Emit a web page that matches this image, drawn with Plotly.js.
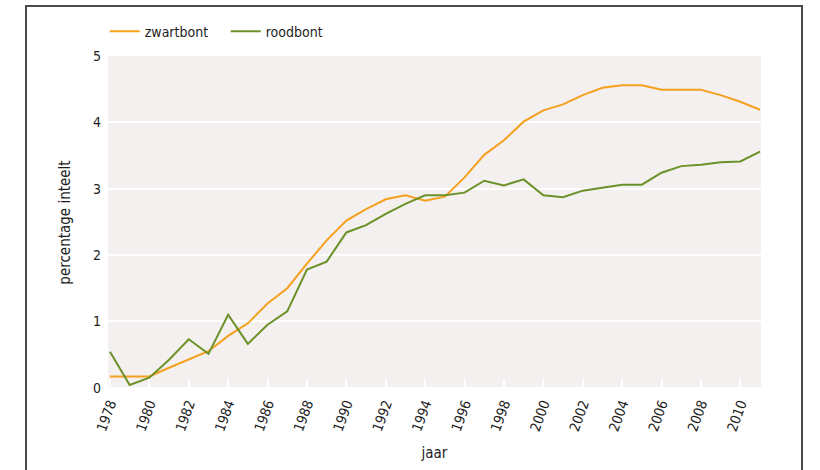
<!DOCTYPE html>
<html>
<head>
<meta charset="utf-8">
<script src="https://cdn.plot.ly/plotly-3.0.1.min.js"></script>
<style>
  html, body { margin: 0; padding: 0; background: #ffffff; }
  #wrap { position: relative; width: 820px; height: 470px; overflow: hidden; }
  #frame { position: absolute; left: 25px; top: 5px; width: 774px; height: 480px; border: 2px solid #4a4a4a; pointer-events: none; }
  #chart { position: absolute; left: 0; top: 0; width: 820px; height: 470px; }
</style>
</head>
<body>
<div id="wrap">
  <div id="chart"></div>
  <div id="frame"></div>
</div>
<script>
const years = [1978,1979,1980,1981,1982,1983,1984,1985,1986,1987,1988,1989,1990,1991,1992,1993,1994,1995,1996,1997,1998,1999,2000,2001,2002,2003,2004,2005,2006,2007,2008,2009,2010,2011];
const zwartbont = [0.17,0.17,0.17,0.3,0.43,0.55,0.78,0.97,1.27,1.5,1.87,2.22,2.52,2.69,2.84,2.9,2.82,2.88,3.17,3.51,3.73,4.01,4.18,4.27,4.41,4.52,4.56,4.56,4.49,4.49,4.49,4.41,4.31,4.19];
const roodbont = [0.54,0.04,0.15,0.42,0.73,0.51,1.1,0.66,0.95,1.15,1.78,1.9,2.34,2.45,2.62,2.77,2.9,2.9,2.94,3.12,3.05,3.14,2.9,2.87,2.97,3.01,3.06,3.06,3.24,3.34,3.36,3.4,3.41,3.56];
const xTicks = [1978,1980,1982,1984,1986,1988,1990,1992,1994,1996,1998,2000,2002,2004,2006,2008,2010];
const yTicks = [0,1,2,3,4,5];

const FONT = '"Liberation Sans Narrow", "DejaVu Sans Condensed", "Arial Narrow", sans-serif';
const INK = '#1e1e1e';

const traces = [
  { x: years, y: zwartbont, name: 'zwartbont', type: 'scatter', mode: 'lines',
    line: { color: '#f5a01e', width: 2 } },
  { x: years, y: roodbont, name: 'roodbont', type: 'scatter', mode: 'lines',
    line: { color: '#6b9128', width: 2 } }
];

const layout = {
  width: 820, height: 470,
  margin: { l: 108, r: 59, t: 56, b: 81, pad: 0 },
  paper_bgcolor: '#ffffff',
  plot_bgcolor: '#f3f0ef',
  font: { family: FONT, size: 14, color: INK },
  showlegend: true,
  legend: { orientation: 'h', x: -0.005, xanchor: 'left', y: 1.025, yanchor: 'bottom',
            font: { family: FONT, size: 14, color: INK }, itemwidth: 30, tracegroupgap: 0,
            entrywidth: 76, entrywidthmode: 'pixels',
            bgcolor: 'rgba(0,0,0,0)' },
  xaxis: {
    range: [1977.9, 2011.05],
    tickvals: xTicks,
    ticktext: xTicks.map(String),
    tickangle: -70,
    ticks: 'inside', ticklen: 10, tickwidth: 2, tickcolor: '#ffffff',
    showgrid: false, zeroline: false, showline: false,
    ticklabelstandoff: 3,
    tickfont: { family: FONT, size: 14, color: INK },
    title: { text: 'jaar', font: { family: FONT, size: 15, color: INK }, standoff: 14 }
  },
  yaxis: {
    range: [-0.02, 5],
    tickvals: yTicks,
    ticktext: yTicks.map(String),
    ticks: '', showline: false, zeroline: false,
    showgrid: true, gridcolor: '#ffffff', gridwidth: 2,
    ticklabelstandoff: 6,
    tickfont: { family: FONT, size: 14, color: INK },
    title: { text: 'percentage inteelt', font: { family: FONT, size: 15, color: INK }, standoff: 18 }
  }
};

Plotly.newPlot('chart', traces, layout, { displayModeBar: false, staticPlot: true });
</script>
</body>
</html>
